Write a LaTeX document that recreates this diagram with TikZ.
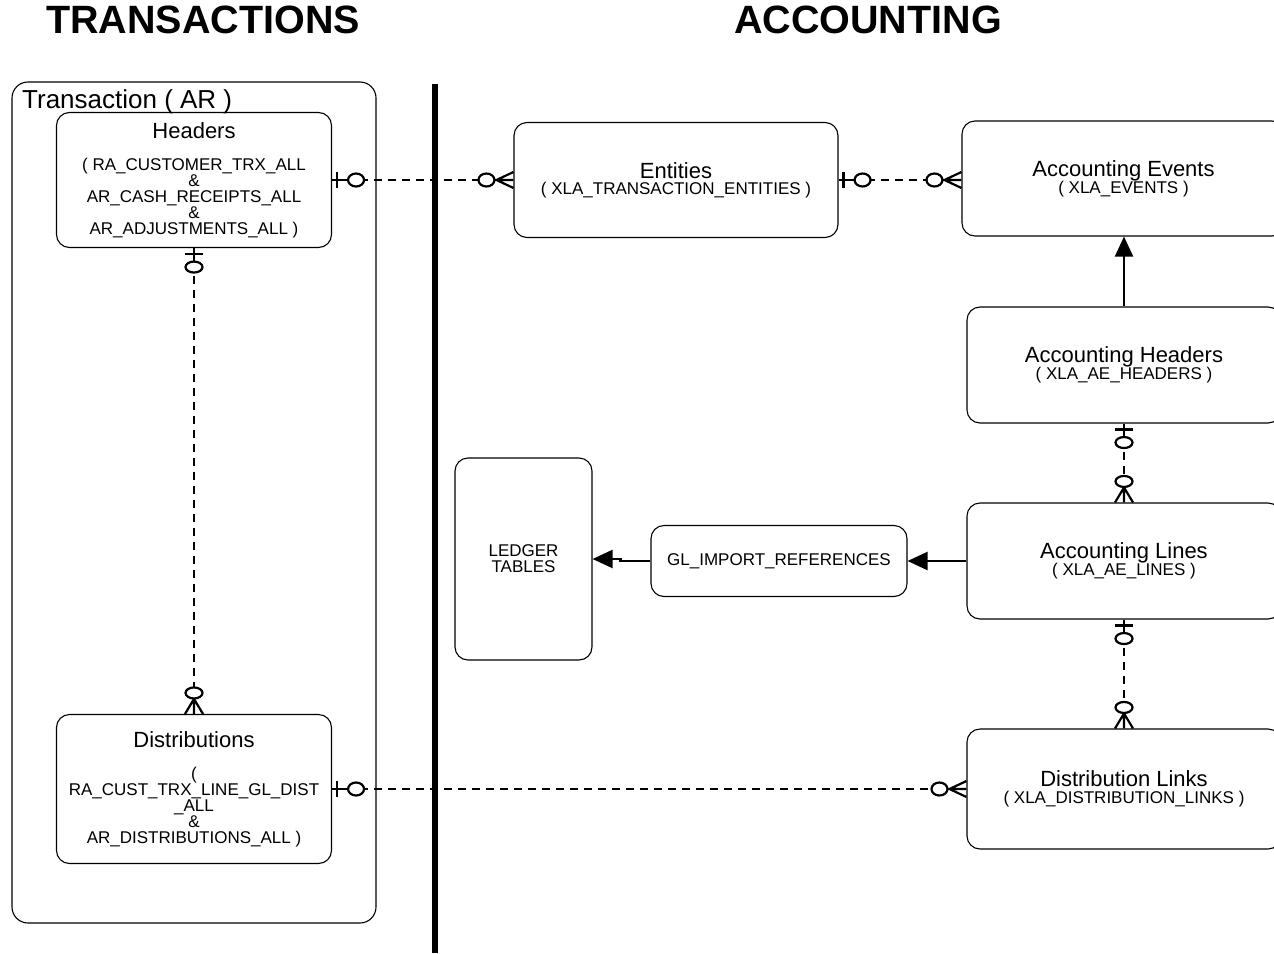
\documentclass[tikz,border=0pt]{standalone}
\usepackage{fontspec}
\setmainfont{Liberation Sans}
\usetikzlibrary{arrows.meta,decorations.markings}
\newcommand\mainlbl[1]{{\fontsize{22}{24}\selectfont #1}}
\lineskiplimit=-100pt
\tikzset{
  box/.style={draw, line width=1.1pt, rounded corners=13pt, inner sep=0pt, align=center,
    font=\fontsize{17}{16}\selectfont},
  title/.style={anchor=base, font=\fontsize{39.5}{41}\selectfont\bfseries},
  conn/.style={line width=2.2pt, dash pattern=on 8pt off 6pt},
  erh/.style={conn, postaction={decorate, decoration={markings,
     mark=at position 0 with {\draw[solid,line width=2.2pt] (0pt,0pt)--(24pt,0pt) (5pt,-8pt)--(5pt,8pt);
        \draw[solid,line width=2.2pt,fill=white] (24pt,0pt) ellipse (8pt and 6.5pt);},
     mark=at position 1 with {\draw[solid,line width=2.2pt] (0pt,0pt)--(-27pt,0pt) (0pt,8pt)--(-17pt,0pt)--(0pt,-8pt);
        \draw[solid,line width=2.2pt,fill=white] (-27pt,0pt) ellipse (8pt and 6.5pt);}}}},
  erv/.style={conn, postaction={decorate, decoration={markings,
     mark=at position 0 with {\draw[solid,line width=2.2pt] (0pt,0pt)--(19pt,0pt) (6pt,-9pt)--(6pt,9pt);
        \draw[solid,line width=2.2pt,fill=white] (19pt,0pt) ellipse (5.5pt and 8.5pt);},
     mark=at position 1 with {\draw[solid,line width=2.2pt] (0pt,0pt)--(-21pt,0pt) (0pt,9pt)--(-15pt,0pt)--(0pt,-9pt);
        \draw[solid,line width=2.2pt,fill=white] (-21pt,0pt) ellipse (5.5pt and 8.5pt);}}}},
  arr/.style={line width=2.2pt, -{Triangle[length=20pt,width=18pt]}},
}
\begin{document}
\begin{tikzpicture}[x=1pt,y=-1pt]
\clip (0,0) rectangle (1274,953);
\fill[white] (0,0) rectangle (1274,953);

% titles
\node[title] (ttrans) at (203,33) {TRANSACTIONS};
\node[title] (tacc) at (868,33) {ACCOUNTING};

% transaction container
\draw[line width=1.1pt, rounded corners=16pt] (12,82) rectangle (376,923);
\node[anchor=base west, inner sep=0pt, font=\fontsize{26}{28}\selectfont] (tar) at (22,108) {Transaction ( AR )};

% divider
\coordinate (dtop) at (435,84);
\coordinate (dbot) at (435,953);
\draw[line width=6pt] (dtop) -- (dbot);

% boxes
\node[box, minimum width=275pt, minimum height=135pt] (headers) at (194,180)
  {\mainlbl{Headers}\\[16pt] ( RA\_CUSTOMER\_TRX\_ALL\\ \&\\ AR\_CASH\_RECEIPTS\_ALL\\ \&\\ AR\_ADJUSTMENTS\_ALL )};
\node[box, minimum width=275pt, minimum height=149pt] (dist) at (194,789)
  {\mainlbl{Distributions}\\[16pt] (\\ RA\_CUST\_TRX\_LINE\_GL\_DIST\\ \_ALL\\ \&\\ AR\_DISTRIBUTIONS\_ALL )};
\node[box, minimum width=324pt, minimum height=115pt] (ent) at (676,180)
  {\mainlbl{Entities}\\ ( XLA\_TRANSACTION\_ENTITIES )};
\node[box, minimum width=323pt, minimum height=115pt] (events) at (1123.5,178.5)
  {\mainlbl{Accounting Events}\\[1pt] ( XLA\_EVENTS )};
\node[box, minimum width=314pt, minimum height=116pt] (aeh) at (1124,365)
  {\mainlbl{Accounting Headers}\\[1pt] ( XLA\_AE\_HEADERS )};
\node[box, minimum width=314pt, minimum height=116pt] (ael) at (1124,561)
  {\mainlbl{Accounting Lines}\\[1pt] ( XLA\_AE\_LINES )};
\node[box, minimum width=314pt, minimum height=120pt] (dlinks) at (1124,789)
  {\mainlbl{Distribution Links}\\[1pt] ( XLA\_DISTRIBUTION\_LINKS )};
\node[box, minimum width=137pt, minimum height=202pt] (ledger) at (523.5,559)
  {LEDGER\\TABLES};
\node[box, minimum width=256pt, minimum height=71pt] (gl) at (779,561)
  {GL\_IMPORT\_REFERENCES};

% relationships
\draw[erh] (headers.east) -- (ent.west);
\draw[erh] (ent.east) -- (events.west |- ent.east);
\draw[erv] (headers.south) -- (dist.north);
\draw[erv] (aeh.south) -- (ael.north);
\draw[erv] (ael.south) -- (dlinks.north);
\draw[erh] (dist.east) -- (dlinks.west |- dist.east);

% arrows
\draw[arr] (aeh.north) -- (aeh.north |- events.south);
\draw[arr] (ael.west) -- (gl.east |- ael.west);
\draw[arr] (gl.west) -- ++(-30,0) |- (ledger.east);
\end{tikzpicture}
\end{document}
